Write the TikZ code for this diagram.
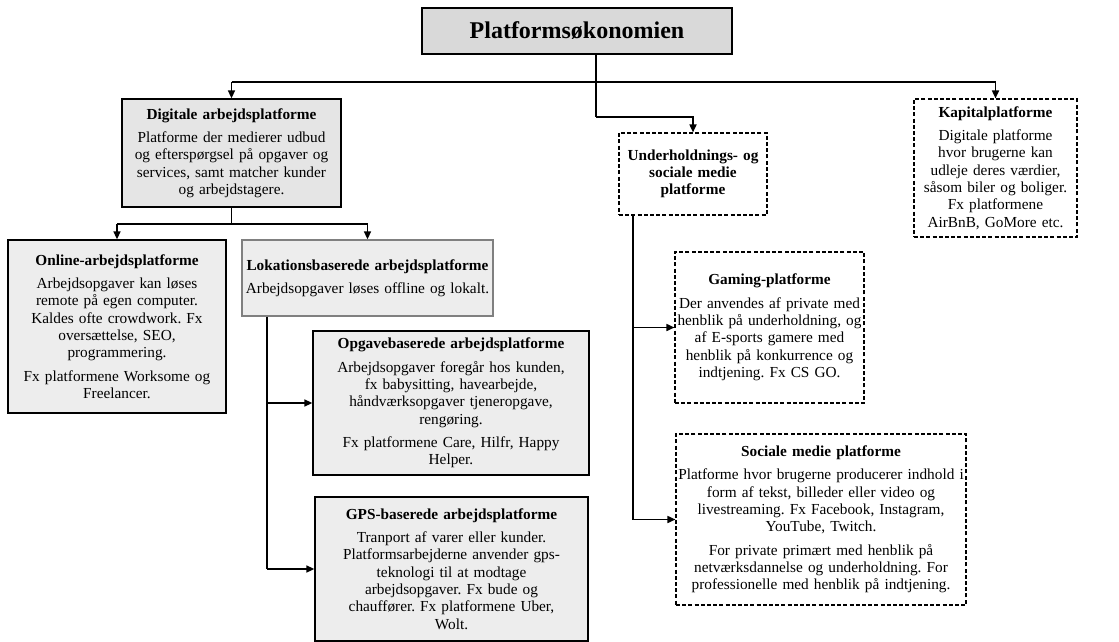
\documentclass[tikz,border=0pt]{standalone}
\usepackage{fontspec}
\setmainfont{Liberation Serif}
\usepackage{tikz}
\usetikzlibrary{positioning,arrows.meta}
\frenchspacing

\tikzstyle{platbox} = [draw=black, line width=1.3pt, rectangle, align=center,
    inner sep=2pt, font=\fontsize{15.3}{17.3}\selectfont]
\tikzstyle{topbox} = [platbox, fill=black!15, line width=2pt]
\tikzstyle{digibox} = [platbox, fill=black!10]
\tikzstyle{greybox} = [platbox, fill=black!7]
\tikzstyle{lokbox} = [greybox, draw=black!50]
\tikzstyle{dashbox} = [platbox, fill=white, line width=1.1pt, dash pattern=on 4pt off 2.2pt]
\tikzstyle{link} = [line width=1.6pt]
\tikzstyle{arrow} = [link, -{Triangle[length=8pt,width=7pt]}]

\begin{document}
\begin{tikzpicture}[x=1pt,y=-1pt]
\useasboundingbox (0,0) rectangle (1119,642);

\node [topbox, text width=306pt, minimum height=46pt] (top) at (577,31)
    {\fontsize{24}{28}\selectfont\textbf{Platformsøkonomien}};

\node [digibox, text width=215pt, minimum height=108pt] (digi) at (231.5,153) {%
    \textbf{Digitale arbejdsplatforme}\\[6pt]
    Platforme der medierer udbud\\ og efterspørgsel på opgaver og\\
    services, samt matcher kunder\\ og arbejdstagere.};

\node [greybox, text width=214pt, minimum height=173pt] (online) at (117,326.5) {%
    \textbf{Online-arbejdsplatforme}\\[6pt]
    Arbejdsopgaver kan løses\\ remote på egen computer.\\
    Kaldes ofte crowdwork. Fx\\ oversættelse, SEO,\\ programmering.\\[6pt]
    Fx platformene Worksome og\\ Freelancer.};

\node [lokbox, text width=247pt, minimum height=76pt] (lok) at (367.5,278) {%
    \textbf{Lokationsbaserede arbejdsplatforme}\\[6pt]
    Arbejdsopgaver løses offline og lokalt.};

\node [greybox, text width=272pt, minimum height=144pt] (opg) at (451,403) {%
    \textbf{Opgavebaserede arbejdsplatforme}\\[6pt]
    Arbejdsopgaver foregår hos kunden,\\ fx babysitting, havearbejde,\\
    håndværksopgaver tjeneropgave,\\ rengøring.\\[6pt]
    Fx platformene Care, Hilfr, Happy\\ Helper.};

\node [greybox, text width=269pt, minimum height=144pt] (gps) at (451.5,569) {%
    \textbf{GPS-baserede arbejdsplatforme}\\[6pt]
    Tranport af varer eller kunder.\\ Platformsarbejderne anvender gps-\\
    teknologi til at modtage\\ arbejdsopgaver. Fx bude og\\
    chauffører. Fx platformene Uber,\\ Wolt.};

\node [dashbox, text width=144pt, minimum height=82pt] (under) at (693,174) {%
    \textbf{Underholdnings- og}\\ \textbf{sociale medie}\\ \textbf{platforme}};

\node [dashbox, text width=159pt, minimum height=138pt] (kap) at (995.5,168) {%
    \textbf{Kapitalplatforme}\\[6pt]
    Digitale platforme\\ hvor brugerne kan\\ udleje deres værdier,\\
    såsom biler og boliger.\\ Fx platformene\\ AirBnB, GoMore etc.};

\node [dashbox, text width=185pt, minimum height=151pt] (gaming) at (769.5,327.5) {%
    \textbf{Gaming-platforme}\\[6pt]
    Der anvendes af private med\\ henblik på underholdning, og\\
    af E-sports gamere med\\ henblik på konkurrence og\\ indtjening. Fx CS GO.};

\node [dashbox, text width=286pt, minimum height=171pt] (soc) at (821,519.5) {%
    \textbf{Sociale medie platforme}\\[6pt]
    Platforme hvor brugerne producerer indhold i\\ form af tekst, billeder eller video og\\
    livestreaming. Fx Facebook, Instagram,\\ YouTube, Twitch.\\[6pt]
    For private primært med henblik på\\ netværksdannelse og underholdning. For\\
    professionelle med henblik på indtjening.};

% forbindelser
\coordinate (j1) at (596,82);
\coordinate (j2) at (596,117);
\coordinate (j3) at (231.5,224);
\coordinate (j4) at (267,569);
\coordinate (j5) at (633,519.5);

\draw [link] (top.south -| j1) -- (j2);
\draw [link] (digi.north |- j1) -- (kap.north |- j1);
\draw [arrow] (digi.north |- j1) -- (digi.north);
\draw [arrow] (kap.north |- j1) -- (kap.north);
\draw [arrow] (j2) -| (under.north);

\draw [link] (digi.south) -- (j3);
\draw [link] (online.north |- j3) -- (lok.north |- j3);
\draw [arrow] (online.north |- j3) -- (online.north);
\draw [arrow] (lok.north |- j3) -- (lok.north);

\draw [link] (lok.south -| j4) -- (j4);
\draw [arrow] (j4) -- (gps.west);
\draw [arrow] (opg.west -| j4) -- (opg.west);

\draw [link] (under.south -| j5) -- (j5);
\draw [arrow] (j5) -- (soc.west);
\draw [arrow] (gaming.west -| j5) -- (gaming.west);

\end{tikzpicture}
\end{document}
